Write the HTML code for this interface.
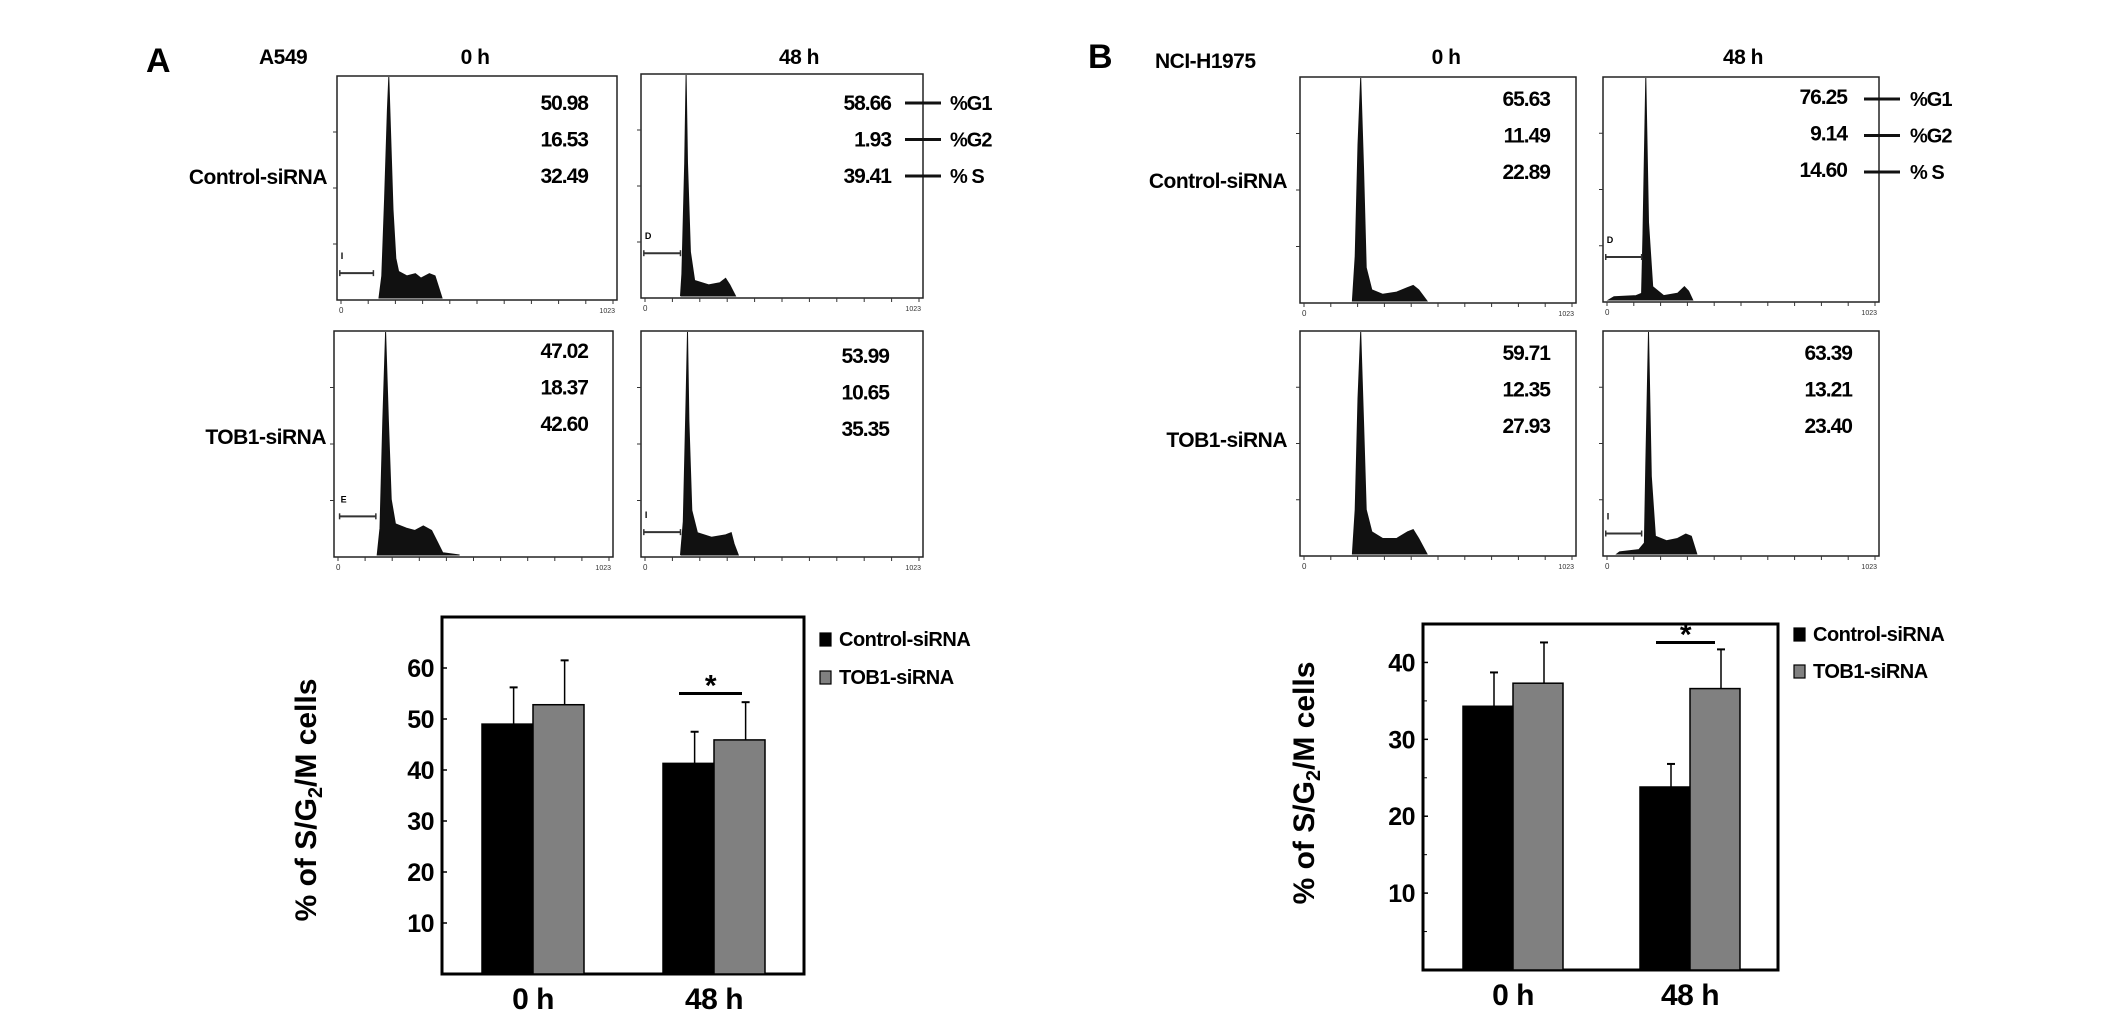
<!DOCTYPE html>
<html><head><meta charset="utf-8"><style>
html,body{margin:0;padding:0;background:#fff}
svg{display:block}
text{font-family:"Liberation Sans",Arial,sans-serif}
</style></head><body>
<svg id="fig" width="2126" height="1026" viewBox="0 0 2126 1026" xmlns="http://www.w3.org/2000/svg">
<g id="root"></g>
</svg>
<script>
// ---- Bar chart data ----
const groups = ["0 h", "48 h"];
const seriesNames = ["Control-siRNA", "TOB1-siRNA"];
const aCtrl = [49.0, 41.3];
const aCtrlErr = [56.2, 47.5];
const aTob = [52.8, 45.9];
const aTobErr = [61.5, 53.3];
const aTicks = [10, 20, 30, 40, 50, 60];
const bCtrl = [34.3, 23.8];
const bCtrlErr = [38.7, 26.8];
const bTob = [37.3, 36.6];
const bTobErr = [42.6, 41.7];
const bTicks = [10, 20, 30, 40];
const bMinorTicks = [5, 15, 25, 35];
// ---- Histogram values (percent phase numbers) ----
const aNums = [["50.98","16.53","32.49"],["58.66","1.93","39.41"],["47.02","18.37","42.60"],["53.99","10.65","35.35"]];
const bNums = [["65.63","11.49","22.89"],["76.25","9.14","14.60"],["59.71","12.35","27.93"],["63.39","13.21","23.40"]];
// histogram profiles: [channel fraction, height fraction]
const histA0c = [[0.15,0],[0.16,0.1],[0.17,0.45],[0.18,0.85],[0.185,1],[0.19,0.8],[0.2,0.4],[0.21,0.18],[0.22,0.12],[0.25,0.1],[0.28,0.11],[0.3,0.09],[0.33,0.11],[0.35,0.1],[0.36,0.06],[0.375,0]];
const histA48c = [[0.14,0],[0.145,0.1],[0.155,0.6],[0.16,1],[0.165,0.6],[0.175,0.2],[0.19,0.07],[0.24,0.05],[0.28,0.06],[0.3,0.08],[0.315,0.05],[0.335,0]];
const histA0t = [[0.155,0],[0.165,0.12],[0.175,0.6],[0.185,1],[0.195,0.6],[0.205,0.25],[0.22,0.14],[0.26,0.12],[0.29,0.11],[0.32,0.13],[0.35,0.11],[0.37,0.06],[0.39,0.01],[0.45,0]];
const histA48t = [[0.14,0],[0.15,0.15],[0.16,0.7],[0.165,1],[0.17,0.6],[0.18,0.2],[0.2,0.1],[0.25,0.08],[0.3,0.09],[0.32,0.1],[0.33,0.05],[0.345,0]];
const histB0c = [[0.19,0],[0.2,0.2],[0.21,0.7],[0.22,1],[0.23,0.6],[0.24,0.15],[0.26,0.05],[0.3,0.03],[0.35,0.04],[0.39,0.06],[0.41,0.07],[0.43,0.05],[0.46,0]];
const histB48c = [[0.02,0],[0.04,0.015],[0.12,0.02],[0.14,0.03],[0.145,0.3],[0.155,1],[0.165,0.35],[0.18,0.06],[0.22,0.02],[0.27,0.03],[0.295,0.06],[0.31,0.04],[0.325,0]];
const histB0t = [[0.19,0],[0.2,0.2],[0.21,0.7],[0.22,1],[0.23,0.6],[0.24,0.2],[0.26,0.1],[0.3,0.07],[0.35,0.07],[0.39,0.1],[0.41,0.11],[0.43,0.07],[0.46,0]];
const histB48t = [[0.05,0],[0.06,0.01],[0.13,0.02],[0.15,0.05],[0.155,0.4],[0.165,1],[0.175,0.35],[0.19,0.08],[0.23,0.06],[0.27,0.07],[0.3,0.09],[0.32,0.08],[0.34,0]];

const NS="http://www.w3.org/2000/svg";
const root=document.getElementById('root');
function mk(tag, attrs, parent, txt){
  const e=document.createElementNS(NS,tag);
  for(const k in attrs) e.setAttribute(k,attrs[k]);
  if(txt!==undefined) e.textContent=txt;
  (parent||root).appendChild(e);
  return e;
}
function label(x,y,s,size,anchor,name,extra){
  const t=mk('text',Object.assign({x:x,y:y,'font-size':size,'font-weight':'bold','text-anchor':anchor||'start','letter-spacing':'-0.5'},extra||{}),root,s);
  
  
  return t;
}
function serif(x,y,s,name){
  const t=mk('text',{x:x,y:y,'font-size':34,'font-weight':'bold','font-family':'"Liberation Serif",serif'},root,s);
  
  
}

function histPanel(x,y,w,h,prof,nums,numRight,marker,name){
  const g=mk('g',{});
  
  
  mk('rect',{x:x,y:y,width:w,height:h,fill:'none',stroke:'#222','stroke-width':1.5},g);
  for(let i=0;i<=10;i++){const tx=x+4+i*(w-8)/10;mk('line',{x1:tx,y1:y+h,x2:tx,y2:y+h+4,stroke:'#333','stroke-width':1},g);}
  for(let i=1;i<=3;i++){const ty=y+h-i*h/4;mk('line',{x1:x-4,y1:ty,x2:x,y2:ty,stroke:'#333','stroke-width':1},g);}
  mk('text',{x:x+2,y:y+h+13,'font-size':8,fill:'#333'},g,'0');
  mk('text',{x:x+w-2,y:y+h+13,'font-size':7,'text-anchor':'end',fill:'#333'},g,'1023');
  const base=y+h-2, top=y+1;
  let d='M'+(x+prof[0][0]*w)+','+base;
  prof.forEach(p=>{d+=' L'+(x+p[0]*w).toFixed(1)+','+(base-p[1]*(base-top)).toFixed(1);});
  d+=' Z';
  const path=mk('path',{d:d,fill:'#111',stroke:'#111','stroke-width':1},g);
  
  
  if(marker){
    const my=y+h*marker[0];
    mk('line',{x1:x+marker[1]*w,y1:my,x2:x+marker[2]*w,y2:my,stroke:'#333','stroke-width':2},g);
    mk('line',{x1:x+marker[1]*w,y1:my-3,x2:x+marker[1]*w,y2:my+3,stroke:'#333','stroke-width':1.5},g);
    mk('line',{x1:x+marker[2]*w,y1:my-3,x2:x+marker[2]*w,y2:my+3,stroke:'#333','stroke-width':1.5},g);
    mk('text',{x:x+marker[1]*w+1,y:my-14,'font-size':9,'font-weight':'bold'},g,marker[3]);
  }
  nums.forEach((n,i)=>{
    const t=mk('text',{x:numRight,y:y+nums.yOff+i*36.5,'font-size':21,'font-weight':'bold','text-anchor':'end','letter-spacing':'-1'},g,n);
    
    
  });
}
function withOff(arr,off){const a=arr.slice();a.yOff=off;return a;}
function phaseKey(xLine,xText,y0){
  ['%G1','%G2','% S'].forEach((s,i)=>{
    const yy=y0+i*36.5;
    mk('line',{x1:xLine,y1:yy-7,x2:xLine+36,y2:yy-7,stroke:'#111','stroke-width':3});
    label(xText,yy,s,20,'start','phase-key-'+(i+1),{'letter-spacing':'-1'});
  });
}

// ---------- Panel A ----------
serif(146,72,'A','panel-a-label');
label(259,64,'A549',21,'start','cell-line-a549');
label(475,64,'0 h',21,'middle','col-0h-a');
label(799,64,'48 h',21,'middle','col-48h-a');
label(327,184,'Control-siRNA',21,'end','row-control-a');
label(326,444,'TOB1-siRNA',21,'end','row-tob1-a');
histPanel(337,76,280,224,histA0c,withOff(aNums[0],34),588,[0.88,0.01,0.13,'I'],'hist-a-control-0h');
histPanel(641,74,282,224,histA48c,withOff(aNums[1],36),891,[0.8,0.01,0.14,'D'],'hist-a-control-48h');
histPanel(334,331,279,226,histA0t,withOff(aNums[2],27),588,[0.82,0.02,0.15,'E'],'hist-a-tob1-0h');
histPanel(641,331,282,226,histA48t,withOff(aNums[3],32),889,[0.89,0.01,0.14,'I'],'hist-a-tob1-48h');
phaseKey(905,950,110);

// ---------- Panel B ----------
serif(1088,68,'B','panel-b-label');
label(1155,68,'NCI-H1975',21,'start','cell-line-h1975');
label(1446,64,'0 h',21,'middle','col-0h-b');
label(1743,64,'48 h',21,'middle','col-48h-b');
label(1287,188,'Control-siRNA',21,'end','row-control-b');
label(1287,447,'TOB1-siRNA',21,'end','row-tob1-b');
histPanel(1300,77,276,226,histB0c,withOff(bNums[0],29),1550,null,'hist-b-control-0h');
histPanel(1603,77,276,225,histB48c,withOff(bNums[1],27),1847,[0.8,0.01,0.14,'D'],'hist-b-control-48h');
histPanel(1300,331,276,225,histB0t,withOff(bNums[2],29),1550,null,'hist-b-tob1-0h');
histPanel(1603,331,276,225,histB48t,withOff(bNums[3],29),1852,[0.9,0.01,0.14,'I'],'hist-b-tob1-48h');
phaseKey(1864,1910,106);

// ---------- Bar charts ----------
function barChart(cfg){
  const {x0,x1,y0,y1,max,ctrl,ctrlErr,tob,tobErr,ticks,minor,cx,bw,sig,prefix,titleX,titleY,legX,legY,legGap}=cfg;
  const yS=v=>y1-(v/max)*(y1-y0);
  const box=mk('rect',{x:x0,y:y0,width:x1-x0,height:y1-y0,fill:'none',stroke:'#000','stroke-width':3});
  
  
  ticks.forEach(t=>{
    mk('line',{x1:x0,y1:yS(t),x2:x0+5,y2:yS(t),stroke:'#000','stroke-width':1.5});
    label(x0-8,yS(t)+9,String(t),25,'end',prefix+'-y-tick-label');
  });
  (minor||[]).forEach(t=>mk('line',{x1:x0,y1:yS(t),x2:x0+4,y2:yS(t),stroke:'#000','stroke-width':1}));
  groups.forEach((gname,i)=>{
    const c=cx[i];
    [[ctrl,ctrlErr,'#000',c-bw,'control'],[tob,tobErr,'#808080',c,'tob1']].forEach(s=>{
      const v=s[0][i], e=s[1][i], bx=s[3];
      const ex=bx+bw*0.62;
      const el=mk('line',{x1:ex,y1:yS(v),x2:ex,y2:yS(e),stroke:'#000','stroke-width':1.5});
      
      
      mk('line',{x1:ex-4,y1:yS(e),x2:ex+4,y2:yS(e),stroke:'#000','stroke-width':2});
      const r=mk('rect',{x:bx,y:yS(v),width:bw,height:y1-yS(v),fill:s[2],stroke:'#000','stroke-width':1.5});
      
      
    });
    label(c,y1+35,gname,30,'middle',prefix+'-x-label');
  });
  const sy=yS(sig.v);
  mk('line',{x1:sig.x1,y1:sy,x2:sig.x2,y2:sy,stroke:'#000','stroke-width':3});
  label((sig.x1+sig.x2)/2,sy+2,'*',30,'middle',prefix+'-significance-star');
  const tt=mk('text',{x:0,y:0,'font-size':30,'font-weight':'bold','text-anchor':'middle',transform:'translate('+titleX+','+titleY+') rotate(-90)'});
  
  
  tt.appendChild(document.createTextNode('% of S/G'));
  mk('tspan',{'font-size':20,dy:6},tt,'2');
  mk('tspan',{dy:-6},tt,'/M cells');
  seriesNames.forEach((n,i)=>{
    const ly=legY+i*legGap;
    const sq=mk('rect',{x:legX,y:ly-12,width:11,height:13,fill:i?'#808080':'#000',stroke:'#000','stroke-width':1.2});
    
    
    label(legX+19,ly+1,n,20,'start',prefix+'-legend-entry');
  });
}
barChart({x0:442,x1:804,y0:617,y1:974,max:70,ctrl:aCtrl,ctrlErr:aCtrlErr,tob:aTob,tobErr:aTobErr,ticks:aTicks,minor:null,
  cx:[533,714],bw:51,sig:{v:55,x1:679,x2:742},prefix:'chart-a',titleX:316,titleY:800,legX:820,legY:645,legGap:38});
barChart({x0:1423,x1:1778,y0:624,y1:970,max:45,ctrl:bCtrl,ctrlErr:bCtrlErr,tob:bTob,tobErr:bTobErr,ticks:bTicks,minor:bMinorTicks,
  cx:[1513,1690],bw:50,sig:{v:42.6,x1:1656,x2:1715},prefix:'chart-b',titleX:1314,titleY:783,legX:1794,legY:640,legGap:37});
</script>
</body></html>
